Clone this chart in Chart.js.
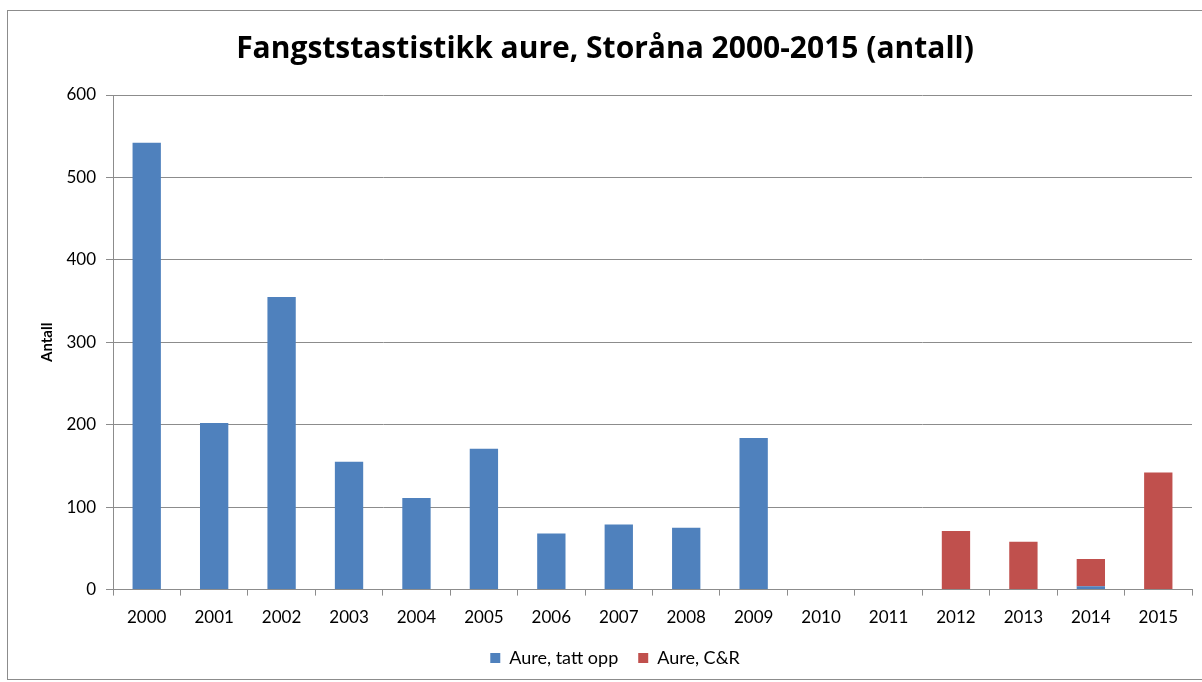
<!DOCTYPE html>
<html>
<head>
<meta charset="utf-8">
<script src="https://cdn.jsdelivr.net/npm/chart.js@4/dist/chart.umd.min.js"></script>
<style>
  html, body { margin: 0; padding: 0; background: #fff; overflow: hidden; }
  #wrap { position: relative; width: 1202px; height: 682px; }
  #frame { position: absolute; left: 7px; top: 10px; width: 1300px; height: 670px; border: 1px solid #8c8c8c; box-sizing: border-box; }
  canvas { position: absolute; left: 0; top: 0; }
</style>
</head>
<body>
<div id="wrap">
  <div id="frame"></div>
  <canvas id="myChart" width="1202" height="682"></canvas>
</div>
<script>
const years = ['2000', '2001', '2002', '2003', '2004', '2005', '2006', '2007',
    '2008', '2009', '2010', '2011', '2012', '2013', '2014', '2015'];
// Aure, tatt opp (kept)
const tattOpp = [542, 202, 355, 155, 111, 171, 68, 79, 75, 184, 0, 0, 0, 0, 4, 0];
// Aure, C&R (catch and release)
const catchRelease = [0, 0, 0, 0, 0, 0, 0, 0, 0, 0, 0, 0, 71, 58, 33, 142];

const font = 'Lato, "Open Sans", sans-serif';

// title sits a bit left of the legend in the original
const shiftTitle = {
    id: 'shiftTitle',
    afterLayout: function (chart) {
        chart.titleBlock.left -= 10;
        chart.titleBlock.right -= 10;
    }
};

const data = {
    labels: years,
    datasets: [{
        label: 'Aure, tatt opp',
        backgroundColor: '#4F81BD',
        data: tattOpp,
        barPercentage: 0.42,
        categoryPercentage: 1
    }, {
        label: 'Aure, C&R',
        backgroundColor: '#C0504D',
        data: catchRelease,
        barPercentage: 0.42,
        categoryPercentage: 1
    }]
};

const config = {
    type: 'bar',
    data: data,
    plugins: [shiftTitle],
    options: {
        responsive: false,
        animation: false,
        layout: {
            padding: { left: 38, right: 10, top: 10, bottom: 5 }
        },
        plugins: {
            title: {
                display: true,
                text: 'Fangststastistikk aure, Storåna 2000-2015 (antall)',
                color: '#000',
                font: { family: '"Open Sans", sans-serif', size: 30, weight: 'bold' },
                padding: { top: 21, bottom: 28 }
            },
            legend: {
                position: 'bottom',
                labels: {
                    color: '#000',
                    font: { family: font, size: 18 },
                    boxWidth: 10,
                    boxHeight: 10,
                    padding: 20
                }
            },
            tooltip: { enabled: false }
        },
        scales: {
            x: {
                stacked: true,
                afterFit: function (scale) {
                    scale.height = scale.height - 11;
                },
                grid: {
                    offset: true,
                    drawOnChartArea: false,
                    drawTicks: true,
                    tickLength: 6,
                    color: '#8c8c8c'
                },
                border: { color: '#8c8c8c' },
                ticks: {
                    color: '#000',
                    font: { family: font, size: 17 },
                    padding: 12,
                    maxRotation: 0
                }
            },
            y: {
                stacked: true,
                min: 0,
                max: 600,
                afterFit: function (scale) {
                    scale.width = 75;
                },
                ticks: {
                    stepSize: 100,
                    color: '#000',
                    font: { family: font, size: 17 },
                    padding: 10
                },
                grid: {
                    color: '#8c8c8c',
                    tickLength: 7
                },
                border: { color: '#8c8c8c' },
                title: {
                    display: true,
                    text: 'Antall',
                    color: '#000',
                    font: { family: font, size: 15, weight: 'bold' },
                    padding: { top: 0, bottom: 0 }
                }
            }
        }
    }
};

const myChart = new Chart(
    document.getElementById('myChart'),
    config
);
</script>
</body>
</html>
